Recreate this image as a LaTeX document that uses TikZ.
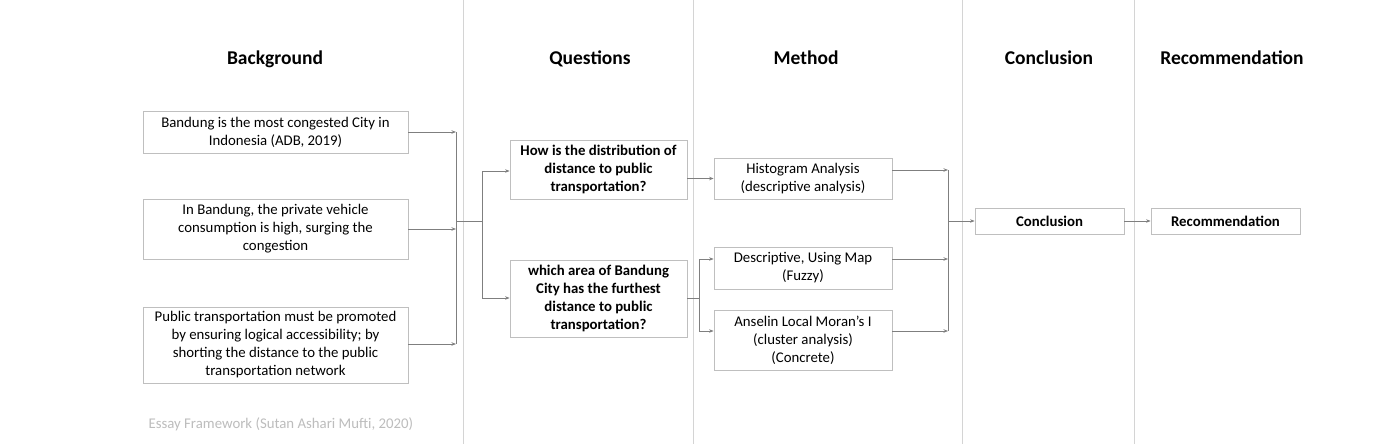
\documentclass[tikz,border=0pt]{standalone}
\usepackage{fontspec}
\setmainfont{Carlito}
\usetikzlibrary{arrows.meta}
\definecolor{sep}{HTML}{D4D4D4}
\definecolor{boxline}{HTML}{BFBFBF}
\definecolor{arr}{HTML}{7F7F7F}
\definecolor{foot}{HTML}{BDBDBD}
\begin{document}
\begin{tikzpicture}[x=1pt,y=-1pt,
  box/.style={draw=boxline,line width=0.8pt,fill=white,align=center,inner sep=0pt,font=\fontsize{14.8}{18}\selectfont},
  qbox/.style={box,font=\fontsize{14.8}{18}\selectfont\bfseries},
  head/.style={font=\fontsize{19.5}{22}\selectfont\bfseries,anchor=base},
  conn/.style={draw=arr,line width=0.7pt},
  arrw/.style={conn,-{Stealth[length=4.5pt,width=3.5pt]}}]
\useasboundingbox (0,0) rectangle (1400,444);
\fill[white] (0,0) rectangle (1400,444);
% separators
\foreach \x/\n in {463/s1,693/s2,962/s3,1134/s4}{
  \coordinate (\n a) at (\x,0); \coordinate (\n b) at (\x,444);
  \draw[sep,line width=0.9pt] (\n a) -- (\n b);}
% headings
\node[head] (hb) at (275,65) {Background};
\node[head] (hq) at (590,65) {Questions};
\node[head] (hm) at (806,65) {Method};
\node[head] (hc) at (1049,65) {Conclusion};
\node[head] (hr) at (1232,65) {Recommendation};
% background boxes
\node[box,minimum width=265pt,minimum height=42pt] (b1) at (275.5,132) {Bandung is the most congested City in\\Indonesia (ADB, 2019)};
\node[box,minimum width=265pt,minimum height=60pt] (b2) at (275.5,229) {In Bandung, the private vehicle\\consumption is high, surging the\\congestion};
\node[box,minimum width=265pt,minimum height=76pt] (b3) at (275.5,345) {Public transportation must be promoted\\by ensuring logical accessibility; by\\shorting the distance to the public\\transportation network};
% questions
\node[qbox,minimum width=177pt,minimum height=59pt] (q1) at (598.5,169.5) {How is the distribution of\\distance to public\\transportation?};
\node[qbox,minimum width=177pt,minimum height=77pt] (q2) at (598.5,298.5) {which area of Bandung\\City has the furthest\\distance to public\\transportation?};
% methods
\node[box,minimum width=178pt,minimum height=41pt] (m1) at (803,178.5) {Histogram Analysis\\(descriptive analysis)};
\node[box,minimum width=178pt,minimum height=42pt] (m2) at (803,268) {Descriptive, Using Map\\(Fuzzy)};
\node[box,minimum width=178pt,minimum height=60pt] (m3) at (803,340) {Anselin Local Moran’s I\\(cluster analysis)\\(Concrete)};
% conclusion, recommendation
\node[qbox,minimum width=149pt,minimum height=26pt] (c) at (1049.5,221) {Conclusion};
\node[qbox,minimum width=149pt,minimum height=26pt] (r) at (1225.5,221) {Recommendation};
% coordinates for connectors
\coordinate (j1) at (456,132);
\coordinate (j2) at (456,229);
\coordinate (j3) at (456,344);
\coordinate (j4) at (456,221);
\coordinate (k1) at (482,171);
\coordinate (k2) at (482,298);
\coordinate (k0) at (482,221);
\coordinate (l0) at (699,298);
\coordinate (l1) at (699,259);
\coordinate (l2) at (699,331);
\coordinate (n1) at (948,170);
\coordinate (n2) at (948,259);
\coordinate (n3) at (948,331);
\coordinate (n0) at (948,221);
% background -> questions
\draw[arrw] (b1.east |- j1) -- (j1);
\draw[arrw] (b2.east |- j2) -- (j2);
\draw[arrw] (b3.east |- j3) -- (j3);
\draw[conn] (j1) -- (j3);
\draw[conn] (j4) -- (k0);
\draw[conn] (k1) -- (k2);
\draw[arrw] (k1) -- (q1.west |- k1);
\draw[arrw] (k2) -- (q2.west |- k2);
% questions -> methods
\draw[arrw] (q1.east |- m1.west) -- (m1.west);
\draw[conn] (q2.east |- l0) -- (l0);
\draw[conn] (l1) -- (l2);
\draw[arrw] (l1) -- (m2.west |- l1);
\draw[arrw] (l2) -- (m3.west |- l2);
% methods -> conclusion
\draw[arrw] (m1.east |- n1) -- (n1);
\draw[arrw] (m2.east |- n2) -- (n2);
\draw[arrw] (m3.east |- n3) -- (n3);
\draw[conn] (n1) -- (n3);
\draw[arrw] (n0) -- (c.west);
\draw[arrw] (c) -- (r);
% footer
\node[font=\fontsize{14.8}{16}\selectfont,text=foot,anchor=west] (ft) at (145,424) {Essay Framework (Sutan Ashari Mufti, 2020)};
\end{tikzpicture}
\end{document}
